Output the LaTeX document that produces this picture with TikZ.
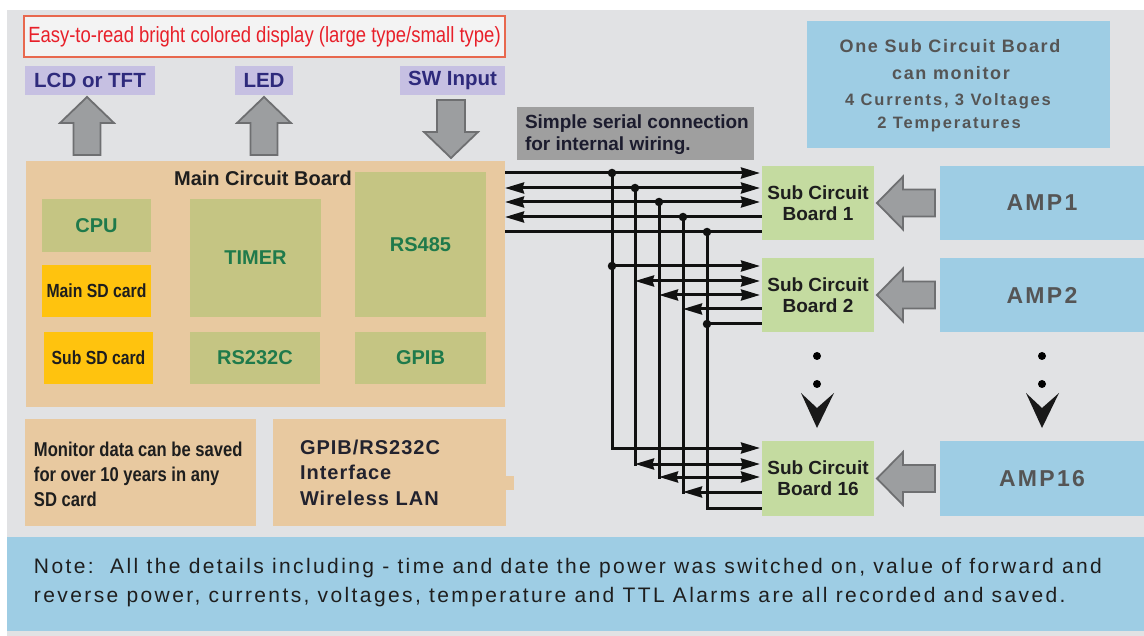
\documentclass[tikz,border=0pt]{standalone}
\usepackage{fontspec}
\setmainfont{Liberation Sans}
\newfontfamily\titlef{Liberation Sans}[FakeStretch=0.84]
\newfontfamily\narrowf{Liberation Sans}[FakeStretch=0.83]
\newfontfamily\lsA{Liberation Sans}[LetterSpace=9]
\newfontfamily\lsB{Liberation Sans}[LetterSpace=11]
\newfontfamily\lsNote{Liberation Sans}[LetterSpace=11.4]
\newfontfamily\lsAmp{Liberation Sans}[LetterSpace=10]
\newfontfamily\lsG{Liberation Sans}[LetterSpace=5]
\usetikzlibrary{arrows.meta}
\definecolor{bggrey}{HTML}{E1E2E4}
\definecolor{peach}{HTML}{E8C9A0}
\definecolor{olive}{HTML}{C5C583}
\definecolor{chipgreen}{HTML}{1F7A4B}
\definecolor{sdyellow}{HTML}{FFC30E}
\definecolor{lav}{HTML}{C6C0E2}
\definecolor{indigo}{HTML}{2E2A7C}
\definecolor{skyb}{HTML}{9ECDE4}
\definecolor{subgreen}{HTML}{C4DBA0}
\definecolor{greytext}{HTML}{555555}
\definecolor{arrowfill}{HTML}{9C9EA0}
\definecolor{arrowdraw}{HTML}{6E6F71}
\definecolor{serialgrey}{HTML}{9F9F9F}
\definecolor{serialtext}{HTML}{1C1C2E}
\definecolor{titlered}{HTML}{E8202A}
\definecolor{titleborder}{HTML}{E8684E}
\definecolor{titlefill}{HTML}{F3F3F3}
\definecolor{darktext}{HTML}{1E1E1E}
\definecolor{gitext}{HTML}{22222E}
\definecolor{wirec}{HTML}{111111}
\tikzset{
  box/.style={inner sep=0pt, outer sep=0pt, anchor=center},
  chip/.style={box, fill=olive, text=chipgreen, font=\bfseries\fontsize{20}{24}\selectfont},
  sdcard/.style={box, fill=sdyellow, text=darktext, font=\narrowf\bfseries\fontsize{19}{22}\selectfont},
  lbl/.style={box, fill=lav, text=indigo, font=\bfseries\fontsize{20.5}{24}\selectfont},
  subb/.style={box, fill=subgreen, align=center, text=darktext, font=\bfseries\fontsize{19}{21}\selectfont},
  amp/.style={box, fill=skyb, text=greytext, font=\lsAmp\bfseries\fontsize{23}{26}\selectfont},
  panel/.style={box, fill=peach},
  txt/.style={inner sep=0pt, outer sep=0pt},
  blockarrow/.style={fill=arrowfill, draw=arrowdraw, line width=1.8pt, line join=miter},
  wire/.style={line width=3pt, draw=wirec},
  wr/.style={wire, -{Stealth[length=19pt,width=11pt,inset=1.5pt]}},
  wl/.style={wire, {Stealth[length=19pt,width=11pt,inset=1.5pt]}-},
  wlr/.style={wire, {Stealth[length=19pt,width=11pt,inset=1.5pt]}-{Stealth[length=19pt,width=11pt,inset=1.5pt]}},
  jdot/.style={circle, fill=wirec, inner sep=0pt, minimum size=8.5pt},
  bigdot/.style={circle, fill=black, inner sep=0pt, minimum size=8pt},
}
\begin{document}
\begin{tikzpicture}[x=1pt,y=-1pt]
\useasboundingbox (0,0) rectangle (1144,636);
\fill[white] (0,0) rectangle (1144,636);
\fill[bggrey] (7,10) rectangle (1144,636);

% title and labels
\node[box, draw=titleborder, line width=2.5pt, fill=titlefill, minimum width=481, minimum height=41,
      text=titlered, font=\titlef\fontsize{22}{24}\selectfont] (title) at (264.5,36.5)
      {Easy-to-read bright colored display (large type/small type)};
\node[lbl, minimum width=130, minimum height=29] (lcd) at (90,80.5) {LCD or TFT};
\node[lbl, minimum width=58, minimum height=29] (led) at (264,80.5) {LED};
\node[lbl, minimum width=105, minimum height=29] (sw) at (452.5,80.5) {SW Input};

% block arrows up/down
\foreach \cx in {87,264}{
  \draw[blockarrow] ({\cx-13.5},155) -- ({\cx-13.5},123) -- ({\cx-27},123) -- (\cx,97)
     -- ({\cx+27},123) -- ({\cx+13.5},123) -- ({\cx+13.5},155) -- cycle;
}
\draw[blockarrow] (437,100) -- (465,100) -- (465,132) -- (478,132) -- (451,158) -- (424,132) -- (437,132) -- cycle;

% main board
\node[panel, minimum width=479, minimum height=246] (main) at (265.5,284) {};
\node[chip, minimum width=109, minimum height=53] (cpu) at (96.5,225.5) {CPU};
\node[sdcard, minimum width=109, minimum height=52] (mainsd) at (96.5,291) {Main SD card};
\node[sdcard, minimum width=109, minimum height=52] (subsd) at (98.5,358) {Sub SD card};
\node[chip, minimum width=131, minimum height=118] (timer) at (255.5,258) {TIMER};
\node[chip, minimum width=131, minimum height=145] (rs485) at (420.5,244.5) {RS485};
\node[chip, minimum width=130, minimum height=52] (rs232) at (255,358) {RS232C};
\node[chip, minimum width=131, minimum height=52] (gpib) at (420.5,358) {GPIB};
\node[txt, anchor=base, text=darktext, font=\bfseries\fontsize{20}{24}\selectfont] (mcbt) at (263,186) {Main Circuit Board};

% lower boxes
\node[panel, minimum width=231, minimum height=107] (monitor) at (140,472.5) {};
\node[panel, minimum width=233, minimum height=107] (gpibif) at (389.5,472.5) {};
\fill[peach] (505,476) rectangle (514,490);
\begin{scope}[every node/.style={txt, anchor=base west, text=darktext}]
\node[font=\narrowf\bfseries\fontsize{20}{24}\selectfont] (mon1) at (34,456) {Monitor data can be saved};
\node[font=\narrowf\bfseries\fontsize{20}{24}\selectfont] (mon2) at (34,481) {for over 10 years in any};
\node[font=\narrowf\bfseries\fontsize{20}{24}\selectfont] (mon3) at (34,506) {SD card};
\node[text=gitext, font=\lsG\bfseries\fontsize{20}{24}\selectfont] (gi1) at (300,454) {GPIB/RS232C};
\node[text=gitext, font=\lsG\bfseries\fontsize{20}{24}\selectfont] (gi2) at (300,479) {Interface};
\node[text=gitext, font=\lsG\bfseries\fontsize{20}{24}\selectfont] (gi3) at (300,505) {Wireless LAN};
\end{scope}

% serial label
\node[box, fill=serialgrey, minimum width=237, minimum height=53] (serial) at (635.5,133.5) {};
\node[txt, anchor=base west, text=serialtext, font=\bfseries\fontsize{19}{22}\selectfont] (ser1) at (525,129) {Simple serial connection};
\node[txt, anchor=base west, text=serialtext, font=\bfseries\fontsize{19}{22}\selectfont] (ser2) at (525,151) {for internal wiring.};

% one sub board info
\node[box, fill=skyb, minimum width=303, minimum height=127] (onesub) at (958.5,84.5) {};
\node[txt, anchor=base, text=greytext, font=\lsA\bfseries\fontsize{18}{22}\selectfont] (os1) at (950,53) {One Sub Circuit Board};
\node[txt, anchor=base, text=greytext, font=\lsA\bfseries\fontsize{18}{22}\selectfont] (os2) at (951,80) {can monitor};
\node[txt, anchor=base, text=greytext, font=\lsB\bfseries\fontsize{16.5}{20}\selectfont] (os3) at (948,106) {4 Currents, 3 Voltages};
\node[txt, anchor=base, text=greytext, font=\lsB\bfseries\fontsize{16.5}{20}\selectfont] (os4) at (949,129) {2 Temperatures};

% coordinates for wiring
\coordinate (L1) at (505,173); \coordinate (L2) at (505,188); \coordinate (L3) at (505,202);
\coordinate (L4) at (505,217); \coordinate (L5) at (505,232);
\coordinate (j1) at (612,173); \coordinate (j2) at (635,188); \coordinate (j3) at (659,202);
\coordinate (j4) at (683,217); \coordinate (j5) at (707,232);
\coordinate (k1) at (612,266); \coordinate (k2) at (635,281); \coordinate (k3) at (659,295);
\coordinate (k4) at (683,309); \coordinate (k5) at (707,324);
\coordinate (c1) at (612,448); \coordinate (c2) at (635,464); \coordinate (c3) at (659,477);
\coordinate (c4) at (683,492); \coordinate (c5) at (707,508);
\coordinate (a1) at (760,173); \coordinate (a2) at (760,188); \coordinate (a3) at (760,202);
\coordinate (a4) at (763,217); \coordinate (a5) at (763,232);
\coordinate (b1) at (760,266); \coordinate (b2) at (760,281); \coordinate (b3) at (760,295);
\coordinate (b4) at (763,309); \coordinate (b5) at (763,324);
\coordinate (e1) at (760,448); \coordinate (e2) at (760,464); \coordinate (e3) at (760,477);
\coordinate (e4) at (763,492); \coordinate (e5) at (763,508);

% wires
\draw[wr] (L1) -- (a1);
\draw[wlr] (L2) -- (a2);
\draw[wlr] (L3) -- (a3);
\draw[wl] (L4) -- (a4);
\draw[wire] (L5) -- (a5);
\foreach \i in {1,...,5}{ \draw[wire, line cap=rect] (j\i) -- (c\i); }
\draw[wr] (k1) -- (b1);
\draw[wlr] (k2) -- (b2);
\draw[wlr] (k3) -- (b3);
\draw[wl] (k4) -- (b4);
\draw[wire] (k5) -- (b5);
\draw[wr] (c1) -- (e1);
\draw[wlr] (c2) -- (e2);
\draw[wlr] (c3) -- (e3);
\draw[wl] (c4) -- (e4);
\draw[wire] (c5) -- (e5);
\foreach \p in {j1,j2,j3,j4,j5,k1,k5}{ \node[jdot] at (\p) {}; }

% sub boards and amps
\node[subb, minimum width=112, minimum height=74] (sub1) at (818,203) {Sub Circuit\\Board 1};
\node[subb, minimum width=112, minimum height=74] (sub2) at (818,295) {Sub Circuit\\Board 2};
\node[subb, minimum width=112, minimum height=75] (sub16) at (818,478.5) {Sub Circuit\\Board 16};
\node[amp, minimum width=204, minimum height=74] (amp1) at (1042,203) {AMP1};
\node[amp, minimum width=204, minimum height=74] (amp2) at (1042,295) {AMP2};
\node[amp, minimum width=204, minimum height=75] (amp16) at (1042,478.5) {AMP16};
\foreach \cy in {203,295,478.5}{
  \draw[blockarrow] (877,\cy) -- (903,{\cy-26.5}) -- (903,{\cy-13.5}) -- (935,{\cy-13.5})
     -- (935,{\cy+13.5}) -- (903,{\cy+13.5}) -- (903,{\cy+26.5}) -- cycle;
}
% continuation dots and chevrons
\foreach \cx in {817,1042}{
  \node[bigdot] at (\cx,356) {};
  \node[bigdot] at (\cx,384) {};
  \fill[black!90] ({\cx-16},393) -- (\cx,408) -- ({\cx+17},393) -- (\cx,428) -- cycle;
}

% note band
\node[box, fill=skyb, minimum width=1137, minimum height=94] (note) at (575.5,584) {};
\node[txt, anchor=base west, text=darktext, font=\lsNote\fontsize{21}{24}\selectfont] (n1) at (34,573)
  {Note:\ \ All the details including - time and date the power was switched on, value of forward and};
\node[txt, anchor=base west, text=darktext, font=\lsNote\fontsize{21}{24}\selectfont] (n2) at (34,602)
  {reverse power, currents, voltages, temperature and TTL Alarms are all recorded and saved.};
\end{tikzpicture}
\end{document}
